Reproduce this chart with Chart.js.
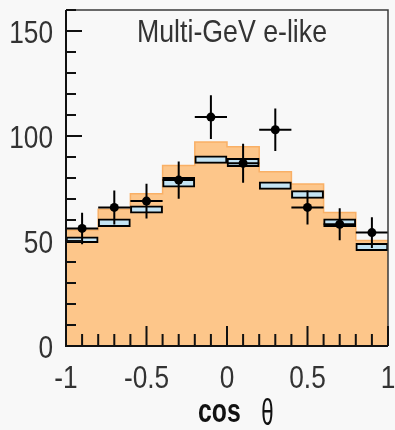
<!DOCTYPE html>
<html>
<head>
<meta charset="utf-8">
<script src="https://cdn.jsdelivr.net/npm/chart.js@4.4.1/dist/chart.umd.min.js"></script>
<style>
  html, body { margin: 0; padding: 0; background: #f8f8f8; }
  #wrap { width: 395px; height: 430px; position: relative; }
</style>
</head>
<body>
<div id="wrap"><canvas id="c"></canvas></div>
<script>
// Zenith-angle distribution, Multi-GeV e-like sample
const binEdges   = [-1, -0.8, -0.6, -0.4, -0.2, 0, 0.2, 0.4, 0.6, 0.8, 1];
const binCenters = [-0.9, -0.7, -0.5, -0.3, -0.1, 0.1, 0.3, 0.5, 0.7, 0.9];

// Monte Carlo expectation (orange histogram)
const mcOscillated = [55.2, 65.1, 72.5, 86.0, 97.2, 94.9, 83.0, 77.1, 63.6, 50.2];
// Expectation band (light blue boxes): lower / upper edge
const mcBandLow  = [49.2, 56.8, 63.2, 75.6, 87.0, 85.4, 74.6, 70.3, 56.8, 45.4];
const mcBandHigh = [52.0, 60.5, 66.7, 80.3, 90.5, 89.4, 78.2, 74.0, 60.5, 48.9];

// Observed events and their statistical errors
const dataCounts = [56, 66, 69, 79, 109, 87, 103, 66, 58, 54];
const dataErrors = [7.5, 8.1, 8.3, 8.9, 10.4, 9.3, 10.1, 8.1, 7.6, 7.3];

// Axis tick labels
const xTickValues = [-1, -0.5, 0, 0.5, 1];
const xTickLabels = ['-1', '-0.5', '0', '0.5', '1'];
const yTickValues = [0, 50, 100, 150];
const yTickLabels = ['0', '50', '100', '150'];
const xMinorStep = 0.1;
const yMinorStep = 10;

const FONT = "'Liberation Sans', Arial, sans-serif";
const TEXT = '#333333';
const NARROW = 0.82;   // condensed lettering

function condensedText(ctx, text, x, y, align, squeeze) {
  ctx.save();
  ctx.translate(x, y);
  ctx.scale(squeeze, 1);
  ctx.textAlign = align;
  ctx.textBaseline = 'alphabetic';
  ctx.fillText(text, 0, 0);
  ctx.restore();
}

// error bars for the observed points
const errorBars = {
  id: 'errorBars',
  afterDatasetsDraw(chart) {
    const { ctx, scales: { x, y } } = chart;
    ctx.save();
    ctx.strokeStyle = '#000';
    ctx.lineWidth = 2;
    dataCounts.forEach((n, i) => {
      const px = x.getPixelForValue(binCenters[i]);
      const py = y.getPixelForValue(n);
      ctx.beginPath();
      ctx.moveTo(px, y.getPixelForValue(n - dataErrors[i]));
      ctx.lineTo(px, y.getPixelForValue(n + dataErrors[i]));
      ctx.moveTo(x.getPixelForValue(binEdges[i]), py);
      ctx.lineTo(x.getPixelForValue(binEdges[i + 1]), py);
      ctx.stroke();
    });
    ctx.restore();
  }
};

// frame, inward ticks, tick labels and titles
const frame = {
  id: 'frame',
  afterDraw(chart) {
    const { ctx, chartArea: a, scales: { x, y } } = chart;
    ctx.save();
    // thin top / right border
    ctx.strokeStyle = '#3a3a3a';
    ctx.lineWidth = 1.5;
    ctx.beginPath();
    ctx.moveTo(a.left, a.top); ctx.lineTo(a.right, a.top); ctx.lineTo(a.right, a.bottom);
    ctx.stroke();
    // axes
    ctx.strokeStyle = '#111';
    ctx.lineWidth = 2;
    ctx.beginPath();
    ctx.moveTo(a.left, a.top); ctx.lineTo(a.left, a.bottom); ctx.lineTo(a.right, a.bottom);
    ctx.stroke();
    // inward ticks
    ctx.beginPath();
    for (let v = y.min; v <= y.max + 1e-9; v += yMinorStep) {
      const major = yTickValues.some(t => Math.abs(t - v) < 1e-6);
      const py = y.getPixelForValue(v);
      ctx.moveTo(a.left, py);
      ctx.lineTo(a.left + (major ? 16 : 10), py);
    }
    for (let v = x.min; v <= x.max + 1e-9; v += xMinorStep) {
      const major = xTickValues.some(t => Math.abs(t - v) < 1e-6);
      const px = x.getPixelForValue(v);
      ctx.moveTo(px, a.bottom);
      ctx.lineTo(px, a.bottom - (major ? 20 : 12));
    }
    ctx.stroke();

    // tick labels
    ctx.fillStyle = TEXT;
    ctx.font = '32px ' + FONT;
    yTickValues.forEach((v, i) => {
      condensedText(ctx, yTickLabels[i], a.left - 13, y.getPixelForValue(v) + 11.5, 'right', NARROW);
    });
    xTickValues.forEach((v, i) => {
      condensedText(ctx, xTickLabels[i], x.getPixelForValue(v), a.bottom + 42, 'center', NARROW);
    });

    // sample label
    condensedText(ctx, 'Multi-GeV e-like', (a.left + a.right) / 2 + 5, a.top + 32, 'center', NARROW + 0.015);

    // axis title: bold "cos" followed by a slender theta
    const cx0 = x.getPixelForValue(0);
    ctx.fillStyle = '#111';
    ctx.font = 'bold 33px ' + FONT;
    condensedText(ctx, 'cos', cx0 - 29, a.bottom + 76, 'left', 0.75);
    ctx.font = '37px ' + FONT;
    condensedText(ctx, '\u03B8', cx0 + 40.5, a.bottom + 79, 'center', 0.6);
    ctx.restore();
  }
};

new Chart(document.getElementById('c'), {
  type: 'bar',
  data: {
    datasets: [
      {
        type: 'scatter',
        order: 1,
        data: binCenters.map((cx, i) => ({ x: cx, y: dataCounts[i] })),
        pointRadius: 4.5,
        pointBackgroundColor: '#000',
        pointBorderColor: '#000',
        pointBorderWidth: 0
      },
      {
        type: 'bar',
        order: 2,
        data: binCenters.map((cx, i) => ({ x: cx, y: [mcBandLow[i], mcBandHigh[i]] })),
        backgroundColor: '#c4e4f4',
        borderColor: '#000',
        borderWidth: 2,
        borderSkipped: false,
        barPercentage: 1,
        categoryPercentage: 1
      },
      {
        type: 'line',
        order: 3,
        data: binEdges.map((ex, i) => ({ x: ex, y: mcOscillated[Math.min(i, mcOscillated.length - 1)] })),
        stepped: true,
        fill: 'origin',
        backgroundColor: '#fdc68a',
        borderColor: '#f9b066',
        borderWidth: 1.5,
        pointRadius: 0
      }
    ]
  },
  options: {
    responsive: true,
    maintainAspectRatio: false,
    animation: false,
    devicePixelRatio: 1,
    layout: { padding: { top: 10, right: 7, left: 0, bottom: 0 } },
    plugins: { legend: { display: false }, tooltip: { enabled: false } },
    scales: {
      x: {
        type: 'linear',
        offset: false,
        min: -1, max: 1,
        afterBuildTicks: s => { s.ticks = xTickValues.map(v => ({ value: v })); },
        afterFit: s => { s.height = 84; },
        grid: { display: false, drawTicks: false },
        border: { display: false },
        ticks: { display: false }
      },
      y: {
        type: 'linear',
        min: 0, max: 160,
        afterBuildTicks: s => { s.ticks = yTickValues.map(v => ({ value: v })); },
        afterFit: s => { s.width = 66; },
        grid: { display: false, drawTicks: false },
        border: { display: false },
        ticks: { display: false }
      }
    }
  },
  plugins: [errorBars, frame]
});
</script>
</body>
</html>
